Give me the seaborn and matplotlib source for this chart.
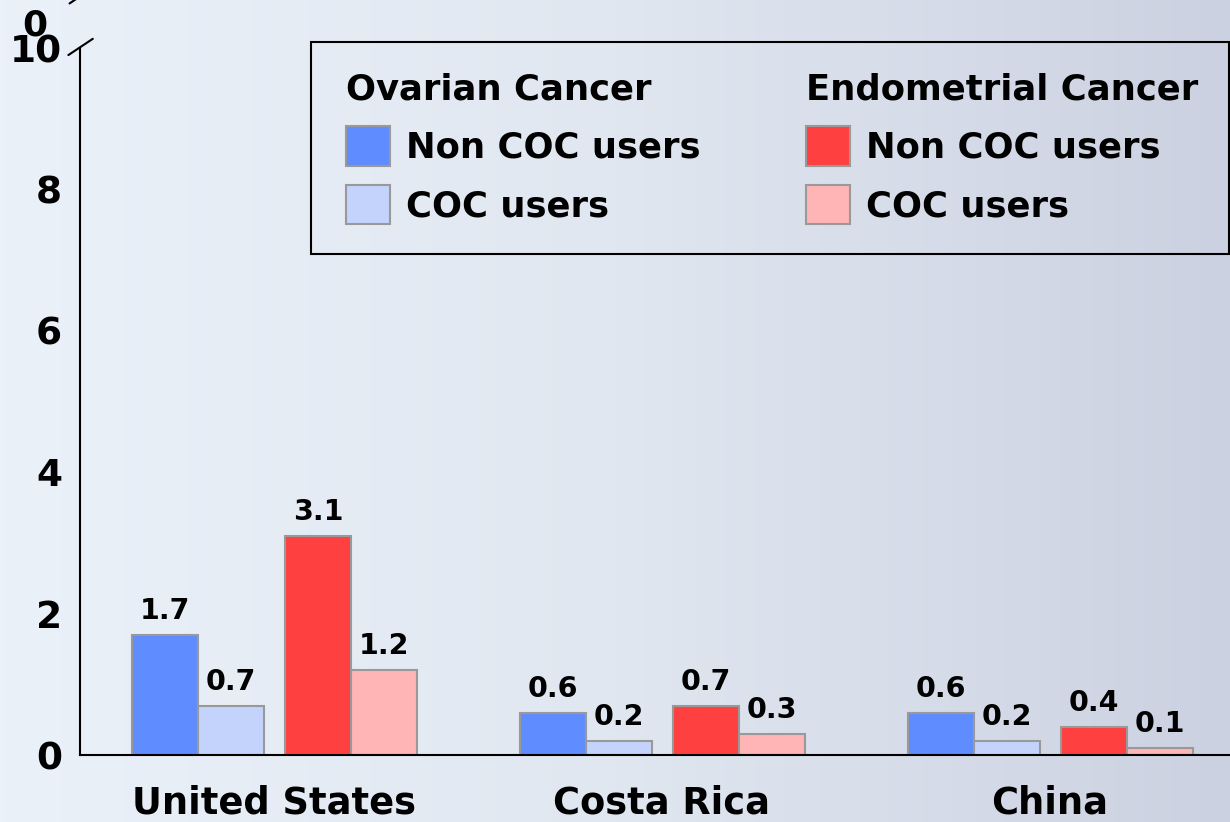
import pandas as pd
import numpy as np
import seaborn as sns
import matplotlib.pyplot as plt
from matplotlib.patches import Patch, Rectangle
from matplotlib.colors import LinearSegmentedColormap

# chart data
countries = ["United States", "Costa Rica", "China"]
users = ["Non COC users", "COC users"]
ovarian_non = [1.7, 0.6, 0.6]
ovarian_coc = [0.7, 0.2, 0.2]
endometrial_non = [3.1, 0.7, 0.4]
endometrial_coc = [1.2, 0.3, 0.1]
yticks = [0, 2, 4, 6, 8, 10]

ov_colors = {"Non COC users": "#5f8cff", "COC users": "#c3d3fc"}
en_colors = {"Non COC users": "#ff4040", "COC users": "#ffb5b5"}
bg = "#e2e8f1"

sns.set_theme(style="white")
plt.rcParams["font.family"] = ["DejaVu Sans"]
plt.rcParams["font.weight"] = "bold"
plt.rcParams["text.color"] = "black"
plt.rcParams["xtick.color"] = "black"
plt.rcParams["ytick.color"] = "black"


def make_frame(non, coc, shift):
    rows = []
    for i, c in enumerate(countries):
        rows.append({"pos": i + shift, "user": users[0], "value": non[i]})
        rows.append({"pos": i + shift, "user": users[1], "value": coc[i]})
    return pd.DataFrame(rows)


ov_df = make_frame(ovarian_non, ovarian_coc, -0.196)
en_df = make_frame(endometrial_non, endometrial_coc, 0.198)

fig = plt.figure(figsize=(12.3, 8.22), dpi=100, facecolor=bg)

# soft background wash, lighter on the left like the slide
bg_ax = fig.add_axes([0, 0, 1, 1], zorder=-1)
wash = LinearSegmentedColormap.from_list("wash", ["#eaf1f9", "#e0e7f0", "#ccd1e1"])
bg_ax.imshow(np.linspace(0, 1, 256)[None, :], cmap=wash, aspect="auto",
             extent=[0, 1, 0, 1])
bg_ax.set_axis_off()

ax = fig.add_axes([80 / 1230, 0.0815, 1164 / 1230, 0.8601])
ax.set_facecolor("none")

bar_kw = dict(x="pos", y="value", hue="user", hue_order=users, native_scale=True,
              width=0.34, edgecolor="#999999", linewidth=1.5, legend=False,
              errorbar=None, saturation=1, ax=ax)
sns.barplot(data=ov_df, palette=ov_colors, **bar_kw)
sns.barplot(data=en_df, palette=en_colors, **bar_kw)

for cont in ax.containers:
    ax.bar_label(cont, fmt="%.1f", padding=7, fontsize=20.5, fontweight="bold",
                 color="black")

ax.set_xlim(-0.5, 2.5)
ax.set_ylim(0, 10)
ax.set_xticks(range(len(countries)))
ax.set_xticklabels(countries, fontsize=26.5, fontweight="bold")
ax.set_xticks(np.arange(-0.5, 3, 1), minor=True)
ax.tick_params(axis="x", which="major", length=0, pad=21)
ax.tick_params(axis="x", which="minor", length=8, width=1.2, direction="out")
ax.set_yticks(yticks)
ax.set_yticklabels([str(t) for t in yticks], fontsize=27, fontweight="bold")
ax.tick_params(axis="y", length=9, width=1.2, direction="out", pad=4)
ax.set_xlabel("")
ax.set_ylabel("")
ax.grid(False)
sns.despine(ax=ax, top=True, right=True)
for s in ["left", "bottom"]:
    ax.spines[s].set_color("black")
    ax.spines[s].set_linewidth(1.5)

# axis break marks and the stray label from the upper segment
ax.plot([-0.010, 0.011], [0.990, 1.013], transform=ax.transAxes, color="black",
        lw=1.5, clip_on=False)
ax.plot([-0.009, 0.011], [1.063, 1.085], transform=ax.transAxes, color="black",
        lw=1.5, clip_on=False)
fig.text(47 / 1230, 1 - 26 / 822, "0", fontsize=26, fontweight="bold",
         ha="right", va="center")

# legend: box plus two titled columns
fig.add_artist(Rectangle((311 / 1230, 1 - 254 / 822), 918 / 1230, 212 / 822,
                         transform=fig.transFigure, fill=False, edgecolor="black",
                         linewidth=1.5))
leg_kw = dict(frameon=False, title_fontproperties={"weight": "bold", "size": 25.5},
              alignment="left", handlelength=1.25, handleheight=1.32, handletextpad=0.45,
              labelspacing=0.55, borderpad=0, borderaxespad=0, loc="upper left",
              bbox_transform=fig.transFigure, prop={"weight": "bold", "size": 25.5})
ov_handles = [Patch(facecolor=ov_colors[u], edgecolor="#999999", lw=1.5) for u in users]
en_handles = [Patch(facecolor=en_colors[u], edgecolor="#999999", lw=1.5) for u in users]
leg1 = fig.legend(ov_handles, users, title="Ovarian Cancer",
                  bbox_to_anchor=(346 / 1230, 1 - 73 / 822), **leg_kw)
leg2 = fig.legend(en_handles, users, title="Endometrial Cancer",
                  bbox_to_anchor=(806 / 1230, 1 - 73 / 822), **leg_kw)

fig.savefig("out.png", dpi=100, facecolor=bg)
